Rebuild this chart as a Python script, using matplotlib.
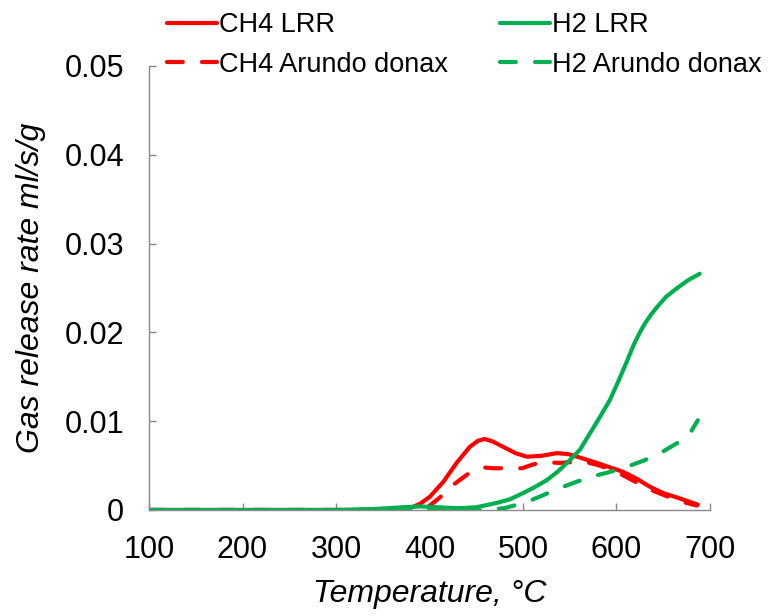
import matplotlib
matplotlib.use("Agg")
import matplotlib.pyplot as plt

# temperature (deg C) and release rate (ml/s/g)
ch4_lrr_t = [100, 200, 300, 360, 379, 390, 400.5, 415, 429, 443, 452, 459, 468, 479, 492, 504, 520, 536, 548, 558, 579, 607, 622, 636, 650, 665, 687]
ch4_lrr_y = [0, 0, 0, 0, 0.0002, 0.0007, 0.0015, 0.0032, 0.0053, 0.0071, 0.0078, 0.0080, 0.0077, 0.0071, 0.0064, 0.0060, 0.0061, 0.0064, 0.0063, 0.0060, 0.0053, 0.0043, 0.0035, 0.0026, 0.0019, 0.0014, 0.0006]

ch4_ad_t = [100, 200, 300, 380, 398, 411, 425, 443, 457, 468, 479, 499, 510, 521, 540, 564, 582, 600, 618, 636, 655, 671, 686]
ch4_ad_y = [0, 0, 0, 0, 0.0003, 0.0014, 0.0028, 0.0042, 0.0048, 0.0047, 0.0047, 0.0047, 0.0051, 0.0054, 0.0053, 0.0055, 0.0050, 0.0043, 0.0033, 0.0023, 0.0015, 0.0009, 0.0005]

h2_lrr_t = [100, 200, 300, 340, 370, 390, 410, 430, 450, 472, 486, 500, 513, 526, 538, 550, 561, 572, 583, 593, 602, 611, 618, 625, 631, 637, 643, 653, 665, 677, 689]
h2_lrr_y = [0, 0, 0, 0.0001, 0.0003, 0.0004, 0.0003, 0.0002, 0.0003, 0.0008, 0.0012, 0.0019, 0.0026, 0.0034, 0.0044, 0.0056, 0.0068, 0.0087, 0.0106, 0.0124, 0.0145, 0.0167, 0.0185, 0.0200, 0.0211, 0.0220, 0.0228, 0.0240, 0.0250, 0.0259, 0.0266]

h2_ad_t = [100, 200, 300, 400, 430, 460, 480, 504, 520, 540, 558, 575, 590, 607, 630, 650, 666, 679, 687]
h2_ad_y = [0, 0, 0, 0.0001, -0.0001, 0.0000, 0.0002, 0.0009, 0.0016, 0.0025, 0.0032, 0.0038, 0.0042, 0.0047, 0.0056, 0.0066, 0.0076, 0.0087, 0.0101]

RED = "#ff0000"
GREEN = "#00b050"
GREY = "#898989"

plt.rcParams["font.family"] = ["Liberation Sans", "DejaVu Sans"]

fig = plt.figure(figsize=(7.79, 6.16), dpi=100)
ax = fig.add_axes([0.1913, 0.1721, 0.9114 - 0.1913, 0.8929 - 0.1721])

lw = 3.0
dash = (0, (3.8, 4.6))
ch4_solid, = ax.plot(ch4_lrr_t, ch4_lrr_y, color=RED, lw=lw, solid_capstyle="round",
					 solid_joinstyle="round", label="CH4 LRR")
ch4_dash, = ax.plot(ch4_ad_t, ch4_ad_y, color=RED, lw=lw, ls=dash, dash_capstyle="round",
					label="CH4 Arundo donax")
h2_solid, = ax.plot(h2_lrr_t, h2_lrr_y, color=GREEN, lw=lw, solid_capstyle="round",
					solid_joinstyle="round", label="H2 LRR")
h2_dash, = ax.plot(h2_ad_t, h2_ad_y, color=GREEN, lw=lw, ls=dash, dash_capstyle="round",
				   label="H2 Arundo donax")

ax.set_xlim(100, 700)
ax.set_ylim(0, 0.05)
ax.set_xticks([100, 200, 300, 400, 500, 600, 700])
ax.set_yticks([0, 0.01, 0.02, 0.03, 0.04, 0.05])
ax.set_yticklabels(["0", "0.01", "0.02", "0.03", "0.04", "0.05"])

for side in ("top", "right"):
	ax.spines[side].set_visible(False)
for side in ("left", "bottom"):
	ax.spines[side].set_color(GREY)
	ax.spines[side].set_linewidth(1.0)
ax.tick_params(direction="in", length=5, width=1.0, color=GREY, labelsize=22, pad=18)

ax.set_xlabel("Temperature, \u00b0C", fontsize=23, style="italic", labelpad=10)
ax.set_ylabel("Gas release rate ml/s/g", fontsize=23, style="italic", labelpad=13)

# one legend per gas so each column sits at its own x position
legend_kw = dict(loc="upper left", frameon=False, fontsize=19.5, handlelength=1.85,
				 handletextpad=0.08, labelspacing=0.5, borderaxespad=0.0, borderpad=0.0)
top = 1 - 12 / 616
fig.legend(handles=[ch4_solid, ch4_dash], bbox_to_anchor=(167 / 779, top), **legend_kw)
fig.legend(handles=[h2_solid, h2_dash], bbox_to_anchor=(500 / 779, top), **legend_kw)

fig.savefig("out.png", dpi=100)
